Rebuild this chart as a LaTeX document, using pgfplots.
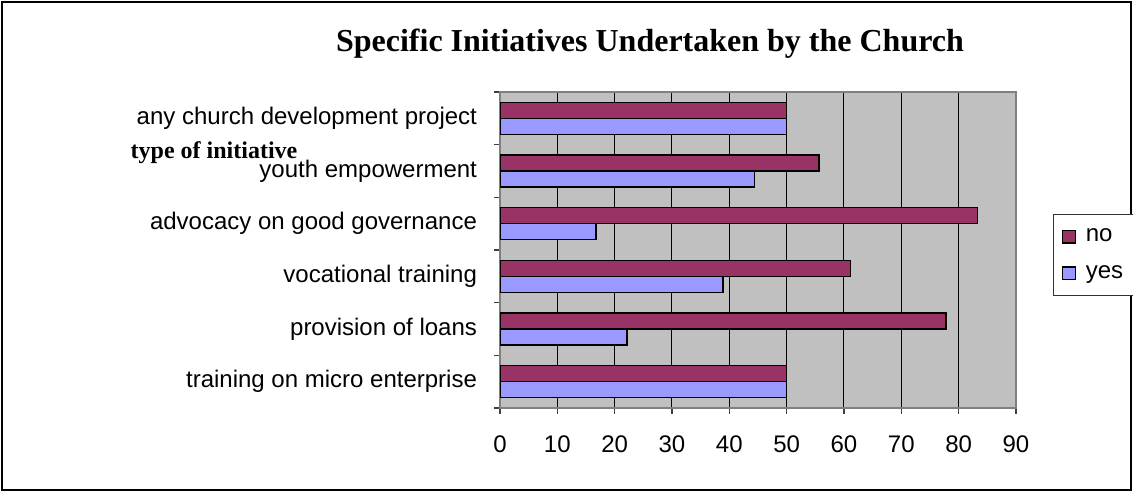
\documentclass[border=0pt]{standalone}
\usepackage{pgfplots}
\pgfplotsset{compat=1.18}
\usepackage{fontspec}
\setmainfont{Liberation Sans}
\newfontfamily\serifb{Liberation Serif}
\definecolor{nocol}{HTML}{993366}
\definecolor{yescol}{HTML}{9999FF}
\definecolor{plotbg}{HTML}{C0C0C0}
\begin{document}
\begin{tikzpicture}[x=0.5pt,y=0.5pt]
\useasboundingbox (0,0) rectangle (1133,492);
\draw[line width=1pt] (2,2) rectangle (1131,490);
\begin{axis}[
  at={(250pt,42pt)}, anchor=south west,
  scale only axis, width=258pt, height=158pt,
  xbar, bar width=8pt,
  xmin=0, xmax=90, ymin=-0.5, ymax=5.5,
  xtick={0,10,...,90},
  ytick={-0.5,0.5,...,5.5}, yticklabels={},
  extra y ticks={0,1,2,3,4,5},
  extra y tick labels={training on micro enterprise, provision of loans, vocational training, advocacy on good governance, youth empowerment, any church development project},
  extra y tick style={major tick length=0pt},
  xtick pos=bottom, ytick pos=left,
  tick align=outside, major tick length=3pt,
  tick style={black!75, line width=0.6pt},
  xmajorgrids, grid style={black, line width=0.5pt},
  axis background/.style={fill=plotbg},
  axis line style={gray, line width=0.8pt},
  /pgf/number format/assume math mode=true,
  ticklabel style={font=\fontsize{12}{14}\selectfont},
  xticklabel style={yshift=-7.5pt},
  yticklabel style={xshift=-8pt},
  legend style={at={(1.0717,0.614)}, anchor=north west, draw=black!80, line width=0.6pt,
    font=\fontsize{12}{14}\selectfont, cells={anchor=west}, row sep=6.5pt,
    inner xsep=4pt, inner ysep=5pt,
    /tikz/every odd column/.append style={column sep=3pt}},
  legend image code/.code={\draw[#1, draw=black, line width=0.6pt] (0pt,-3.2pt) rectangle (6.5pt,3.2pt);},
]
\addplot[fill=nocol, draw=black, line width=0.8pt, bar shift=4pt] coordinates {(50,0) (77.8,1) (61.1,2) (83.3,3) (55.6,4) (50,5)};
\addplot[fill=yescol, draw=black, line width=0.8pt, bar shift=-4pt] coordinates {(50,0) (22.2,1) (38.9,2) (16.7,3) (44.4,4) (50,5)};
\legend{no,yes}
\end{axis}
\node[font=\serifb\bfseries\fontsize{16}{19}\selectfont] at (650,448) {Specific Initiatives Undertaken by the Church};
\node[font=\serifb\bfseries\fontsize{12}{14}\selectfont] at (214,339) {type of initiative};
\end{tikzpicture}
\end{document}
